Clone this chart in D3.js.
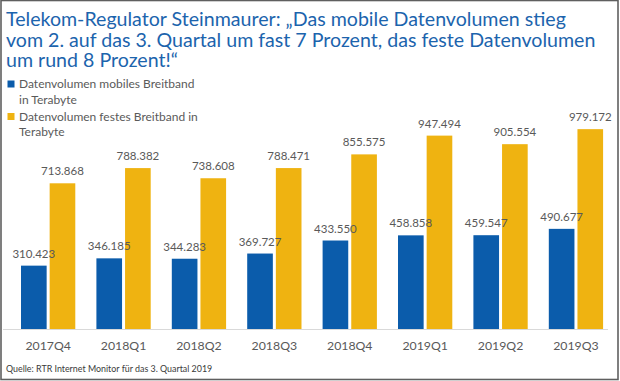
<!DOCTYPE html>
<html><head><meta charset="utf-8">
<script src="https://cdn.jsdelivr.net/npm/d3@7"></script>
<style>body{margin:0;background:#fff;}svg{display:block;}</style>
</head><body>
<script>
const categories = ["2017Q4","2018Q1","2018Q2","2018Q3","2018Q4","2019Q1","2019Q2","2019Q3"];
const mobileValues = [310423,346185,344283,369727,433550,458858,459547,490677];
const fixedValues = [713868,788382,738608,788471,855575,947494,905554,979172];
const mobileLabels = ["310.423","346.185","344.283","369.727","433.550","458.858","459.547","490.677"];
const fixedLabels = ["713.868","788.382","738.608","788.471","855.575","947.494","905.554","979.172"];
const seriesNames = ["mobile","fixed"];
const legendLines = [["Datenvolumen mobiles Breitband","in Terabyte"],["Datenvolumen festes Breitband in","Terabyte"]];
const titleLines = ["Telekom-Regulator Steinmaurer: „Das mobile Datenvolumen stieg","vom 2. auf das 3. Quartal um fast 7 Prozent, das feste Datenvolumen","um rund 8 Prozent!“"];
const sourceText = "Quelle: RTR Internet Monitor für das 3. Quartal 2019";

const W=620,H=381;
const colors={mobile:"#0B5CAB",fixed:"#EFB311"};
const labelSets={mobile:mobileLabels,fixed:fixedLabels};
const valueSets={mobile:mobileValues,fixed:fixedValues};
const font="Lato, 'Open Sans', sans-serif";
const svg=d3.select("body").append("svg").attr("width",W).attr("height",H);
svg.append("rect").attr("width",W).attr("height",H).attr("fill","#fff");
svg.append("rect").attr("x",1).attr("y",0.5).attr("width",W-3).attr("height",H-2).attr("fill","none").attr("stroke","#5f5f5f").attr("stroke-width",1.6);

const baseline=329;
const x0=d3.scaleBand().domain(categories).range([10.45,613.65]).paddingInner(0.28).paddingOuter(0.14);
const x1=d3.scaleBand().domain(seriesNames).range([0,x0.bandwidth()]).paddingInner(0.105);
const y=d3.scaleLinear().domain([0,1000000]).range([baseline,baseline-204.1]);

// title
const t=svg.append("text").attr("font-family",font).attr("font-size",19.6).attr("fill","#1C64AD");
titleLines.forEach((l,i)=>t.append("tspan").attr("x",6).attr("y",26.3+i*20.2).text(l));

// legend
legendLines.forEach((lines,i)=>{
  const yy=88+i*32.5;
  svg.append("rect").attr("x",7.5).attr("y",yy-7.5).attr("width",7).attr("height",7).attr("fill",colors[seriesNames[i]]);
  lines.forEach((l,j)=>svg.append("text").attr("x",19).attr("y",yy+j*15.5).attr("font-family",font).attr("font-size",12).attr("fill","#5a5a5a").text(l));
});

// axis line
svg.append("line").attr("x1",3).attr("x2",608).attr("y1",baseline+0.5).attr("y2",baseline+0.5).attr("stroke","#d9d9d9");

const g=svg.append("g");
categories.forEach((c,i)=>{
  seriesNames.forEach(s=>{
    const v=valueSets[s][i];
    g.append("rect").attr("x",x0(c)+x1(s)).attr("y",y(v)).attr("width",x1.bandwidth()).attr("height",baseline-y(v)).attr("fill",colors[s]);
  });
});
const lg=svg.append("g");
categories.forEach((c,i)=>{
  seriesNames.forEach(s=>{
    const v=valueSets[s][i];
    lg.append("text").attr("x",x0(c)+x1(s)+x1.bandwidth()/2).attr("y",y(v)-8).attr("text-anchor","middle")
      .attr("font-family",font).attr("font-size",11.5).attr("fill","#595959").text(labelSets[s][i]);
  });
});
const xa=svg.append("g").attr("transform",`translate(0,${baseline})`).call(d3.axisBottom(x0).tickSize(0).tickPadding(0));
xa.select(".domain").remove();
xa.selectAll("text").attr("dy",null).attr("y",21).attr("font-family",font).attr("font-size",12.3).attr("fill","#595959");

svg.append("text").attr("x",6).attr("y",372.3).attr("font-family",font).attr("font-size",8.9).attr("fill","#3a3a3a").text(sourceText);
</script>
</body></html>
